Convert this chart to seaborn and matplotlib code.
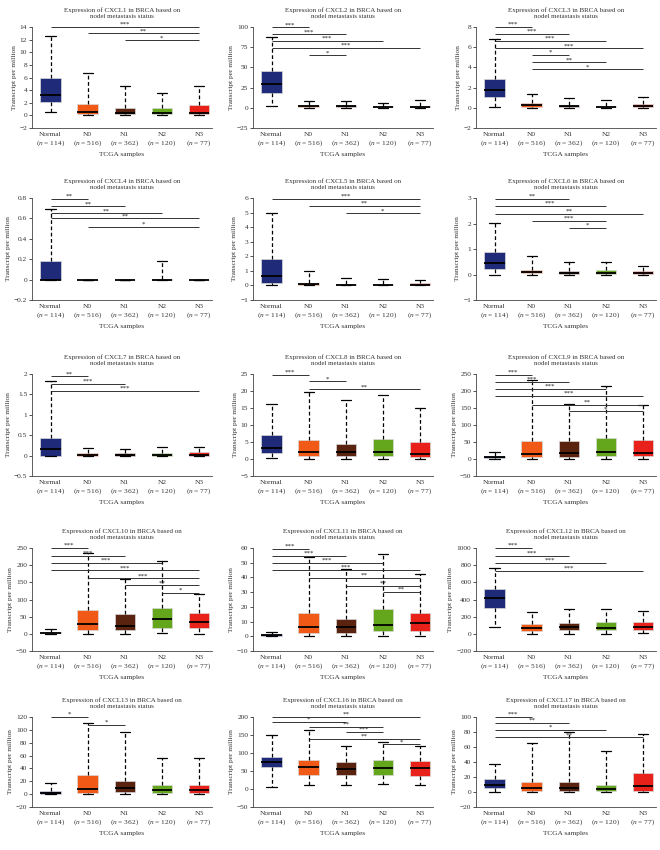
import numpy as np
import pandas as pd
import matplotlib
matplotlib.use("Agg")
import matplotlib.pyplot as plt
import seaborn as sns
from matplotlib.ticker import FuncFormatter

groups = ["Normal", "N0", "N1", "N2", "N3"]
group_n = [114, 516, 362, 120, 77]
palette = ["#1f2a78", "#f05a16", "#5a2310", "#64a61c", "#e8221b"]

genes = ["CXCL1", "CXCL2", "CXCL3", "CXCL4", "CXCL5", "CXCL6", "CXCL7", "CXCL8",
         "CXCL9", "CXCL10", "CXCL11", "CXCL12", "CXCL13", "CXCL16", "CXCL17"]

# box summaries per group: [lower whisker, Q1, median, Q3, upper whisker]
cxcl1 = [[0.5, 2.1, 3.3, 6.0, 12.5], [0, 0.2, 0.6, 1.8, 6.7], [0, 0.25, 0.45, 1.1, 4.6],
         [0, 0.15, 0.4, 1.1, 3.5], [0, 0.15, 0.4, 1.6, 4.6]]
cxcl2 = [[2, 18, 29, 45, 88], [0, 1, 2, 3, 9], [0, 1, 2, 3.5, 8], [0, 0.5, 1, 2, 6], [0, 0.8, 1.5, 2.5, 9.5]]
cxcl3 = [[0.1, 1.1, 1.8, 2.9, 6.8], [0, 0.1, 0.25, 0.45, 1.4], [0, 0.08, 0.15, 0.25, 0.95],
         [0, 0.05, 0.1, 0.2, 0.8], [0, 0.08, 0.15, 0.35, 1.05]]
cxcl4 = [[0, 0, 0, 0.18, 0.69], [0, 0, 0, 0, 0], [0, 0, 0, 0, 0], [0, 0, 0, 0.005, 0.18], [0, 0, 0, 0, 0]]
cxcl5 = [[0, 0.2, 0.65, 1.8, 5.0], [0, 0.02, 0.08, 0.18, 1.0], [0, 0.02, 0.06, 0.12, 0.5],
         [0, 0.02, 0.06, 0.1, 0.42], [0, 0.02, 0.06, 0.18, 0.38]]
cxcl6 = [[0, 0.22, 0.45, 0.88, 2.02], [0, 0.04, 0.08, 0.16, 0.74], [0, 0.03, 0.07, 0.13, 0.48],
         [0, 0.02, 0.06, 0.18, 0.5], [0, 0.02, 0.05, 0.12, 0.33]]
cxcl7 = [[0, 0, 0.15, 0.44, 1.84], [0, 0, 0.01, 0.07, 0.18], [0, 0, 0.01, 0.07, 0.17],
         [0, 0, 0.01, 0.07, 0.21], [0, 0, 0.02, 0.09, 0.2]]
cxcl8 = [[0.2, 1.8, 3.3, 7.2, 16.3], [0, 0.8, 2.1, 5.5, 19.7], [0, 1.0, 2.1, 4.3, 17.4],
         [0.1, 0.8, 2.1, 5.8, 18.8], [0, 0.7, 1.6, 5.0, 15.0]]
cxcl9 = [[0, 3, 5, 10, 22], [0, 5, 15, 53, 233], [0, 7, 18, 53, 163], [1, 10, 21, 63, 216], [1, 8, 19, 56, 158]]
cxcl10 = [[0, 2, 3, 5, 14], [0, 12, 29, 68, 235], [0, 10, 23, 58, 160], [2, 17, 42, 75, 212], [0, 18, 35, 62, 117]]
cxcl11 = [[0, 0.3, 0.8, 1.5, 3.2], [0, 2.5, 6.5, 16, 54], [0.5, 2, 6, 12, 46], [0.5, 3.5, 8, 18.5, 56],
          [0.3, 3.5, 9, 16, 42]]
cxcl12 = [[75, 305, 415, 525, 770], [0, 35, 65, 115, 255], [0, 45, 75, 130, 295], [0, 45, 70, 135, 285],
          [10, 50, 85, 135, 265]]
cxcl13 = [[0, 1, 2, 5, 18], [0, 2, 8, 30, 110], [0, 3, 10, 20, 97], [0, 2, 7, 15, 57], [0, 2, 7, 15, 57]]
cxcl16 = [[5, 60, 75, 90, 150], [10, 40, 60, 80, 165], [10, 40, 55, 75, 120], [15, 40, 57, 80, 130],
          [12, 35, 58, 78, 120]]
cxcl17 = [[0, 5, 10, 18, 38], [0, 2, 5, 14, 65], [0, 2, 5, 14, 80], [0, 1, 4, 10, 55], [0, 2, 8, 25, 77]]

# y axis range per panel: (bottom, top, step)
yaxes = [(-2, 14, 2), (-25, 100, 25), (-2, 8, 2), (-0.2, 0.8, 0.2), (-1, 6, 1), (-1, 3, 1),
         (-0.5, 2, 0.5), (-5, 25, 5), (-50, 250, 50), (-50, 250, 50), (-10, 60, 10), (-200, 1000, 200),
         (-20, 120, 20), (-50, 200, 50), (-20, 100, 20)]

# significance bars: (from group, to group, height, stars)
sig1 = [(0, 4, 14, "***"), (1, 4, 13, "**"), (2, 4, 11.9, "*")]
sig2 = [(0, 1, 99.5, "***"), (0, 2, 91, "***"), (0, 3, 83, "***"), (0, 4, 74, "***"), (1, 2, 65, "*")]
sig3 = [(0, 1, 8.0, "***"), (0, 2, 7.3, "***"), (0, 3, 6.6, "***"), (0, 4, 5.9, "***"),
        (1, 2, 5.25, "*"), (1, 3, 4.5, "**"), (1, 4, 3.8, "*")]
sig4 = [(0, 1, 0.79, "**"), (0, 2, 0.72, "**"), (0, 3, 0.65, "**"), (0, 4, 0.6, "**"), (1, 4, 0.52, "*")]
sig5 = [(0, 4, 5.95, "***"), (1, 4, 5.45, "**"), (2, 4, 4.95, "*")]
sig6 = [(0, 2, 2.97, "**"), (0, 3, 2.69, "***"), (0, 4, 2.39, "**"), (1, 3, 2.1, "***"), (2, 3, 1.84, "*")]
sig7 = [(0, 1, 1.94, "**"), (0, 2, 1.76, "***"), (0, 4, 1.58, "***")]
sig8 = [(0, 1, 24.7, "***"), (1, 2, 22.8, "*"), (1, 4, 20.5, "**")]
sig9 = [(0, 1, 248, "***"), (0, 2, 227, "***"), (0, 3, 206, "***"), (0, 4, 186, "***"),
        (1, 4, 159, "**"), (2, 4, 140, "*")]
sig10 = [(0, 1, 250, "***"), (0, 2, 228, "***"), (0, 3, 206, "***"), (0, 4, 185, "***"),
         (1, 4, 162, "***"), (2, 4, 141, "**"), (3, 4, 120, "*")]
sig11 = [(0, 1, 59.3, "***"), (0, 2, 54.6, "***"), (0, 3, 49.8, "***"), (0, 4, 45.1, "***"),
         (1, 4, 39.7, "**"), (2, 4, 34.3, "**"), (3, 4, 30, "**")]
sig12 = [(0, 1, 1000, "***"), (0, 2, 911, "***"), (0, 3, 826, "***"), (0, 4, 737, "***")]
sig13 = [(0, 1, 120, "*"), (1, 2, 108, "*")]
sig16 = [(0, 4, 200, "**"), (0, 2, 186, "*"), (1, 3, 172, "**"), (2, 3, 158, "***"),
         (1, 4, 140, "**"), (3, 4, 124, "*")]
sig17 = [(0, 1, 100, "***"), (0, 2, 92, "**"), (0, 3, 83, "*"), (0, 4, 73, "**")]

boxes = [cxcl1, cxcl2, cxcl3, cxcl4, cxcl5, cxcl6, cxcl7, cxcl8, cxcl9, cxcl10,
         cxcl11, cxcl12, cxcl13, cxcl16, cxcl17]
sigs = [sig1, sig2, sig3, sig4, sig5, sig6, sig7, sig8, sig9, sig10, sig11, sig12, sig13, sig16, sig17]

sns.set_theme(style="ticks")
plt.rcParams["font.family"] = ["Liberation Serif", "DejaVu Serif"]
plt.rcParams["mathtext.fontset"] = "custom"
plt.rcParams["mathtext.it"] = "Liberation Serif:italic"
plt.rcParams["mathtext.rm"] = "Liberation Serif"

W, H = 660, 850
fig = plt.figure(figsize=(6.6, 8.5), dpi=100)

col_left = [32, 253, 476]
ax_w = 180
row_top = [27, 198, 374, 548, 717]
row_h = [101, 102, 102, 103, 90]

fs = 5.3
xlabels = [f"{g}\n($n$ = {n})" for g, n in zip(groups, group_n)]
fmt = FuncFormatter(lambda v, _: f"{round(v, 6):g}".replace("-", "\u2212"))

for k, gene in enumerate(genes):
    r, c = divmod(k, 3)
    ax = fig.add_axes([col_left[c] / W, 1 - (row_top[r] + row_h[r]) / H, ax_w / W, row_h[r] / H])

    df = pd.DataFrame({"group": np.repeat(groups, 5), "value": np.ravel(boxes[k])})
    sns.boxplot(data=df, x="group", y="value", hue="group", order=groups, hue_order=groups,
                palette=palette, saturation=1, whis=(0, 100), width=0.55, linecolor="black",
                linewidth=0.8, showfliers=False, legend=False, ax=ax,
                boxprops=dict(edgecolor="#d9d9d9", linewidth=0.5),
                whiskerprops=dict(linestyle=(0, (3, 2)), linewidth=0.9),
                capprops=dict(linewidth=0.9),
                medianprops=dict(linewidth=1.3))

    for i, j, h, stars in sigs[k]:
        ax.plot([i, j], [h, h], color="#333333", lw=0.7, solid_capstyle="butt")
        ax.annotate(stars, xy=((i + j) / 2, h), xytext=(0, 0), textcoords="offset points",
                    ha="center", va="bottom", fontsize=5, color="#222222")

    lo, hi, step = yaxes[k]
    ax.set_ylim(lo, hi)
    ax.set_yticks(np.arange(lo, hi + step / 2, step))
    ax.yaxis.set_major_formatter(fmt)
    ax.set_xlim(-0.5, 4.35)
    ax.set_xticks(range(5), xlabels)

    ax.set_title(f"Expression of {gene} in BRCA based on\nnodel metastasis status",
                 fontsize=5, pad=6.5, linespacing=1.3)
    ax.set_ylabel("Transcript per million", fontsize=fs, labelpad=2)
    ax.set_xlabel("TCGA samples", fontsize=fs, labelpad=2.5)
    ax.tick_params(axis="y", labelsize=fs, length=2, width=0.6, pad=1.5, colors="#333333")
    ax.tick_params(axis="x", labelsize=fs, length=0, pad=3, colors="#333333")
    ax.yaxis.label.set_color("#333333")
    ax.xaxis.label.set_color("#333333")
    ax.title.set_color("#333333")
    sns.despine(ax=ax)
    for s in ["left", "bottom"]:
        ax.spines[s].set_linewidth(0.6)
        ax.spines[s].set_color("#444444")

fig.savefig("out.png", dpi=100)
